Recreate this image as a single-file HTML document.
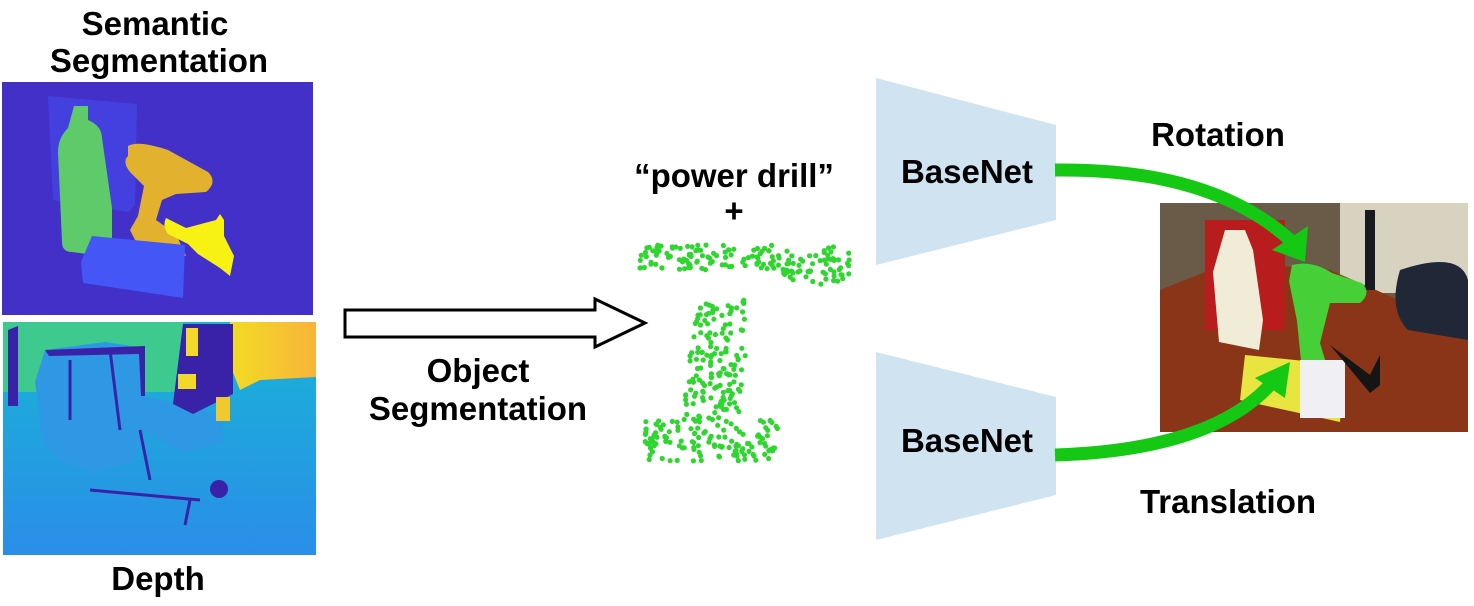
<!DOCTYPE html>
<html><head><meta charset="utf-8"><style>
html,body{margin:0;padding:0;background:#fff;}
svg{display:block;font-family:"Liberation Sans",sans-serif;font-weight:bold;}
</style></head><body>
<svg id="s" width="1474" height="606" viewBox="0 0 1474 606" xmlns="http://www.w3.org/2000/svg">
<text x="155" y="35" font-size="33" text-anchor="middle">Semantic</text>
<text x="159" y="72" font-size="33" text-anchor="middle">Segmentation</text>
<rect x="2" y="82" width="311" height="233" fill="#4230c8"/>
<polygon points="48,96 137,104 135,205 128,212 53,200" fill="#4440e0"/>
<path d="M74,106 h14 v14 q14,6 14,18 l10,70 v40 q0,8 -10,8 l-30,-4 q-10,0 -10,-10 l-4,-90 q0,-14 10,-24 z" fill="#5fca6a"/>
<path d="M128,146 q10,-6 40,4 l40,22 q10,10 -2,20 l-30,2 l-14,6 l-6,20 l20,14 l10,22 l-30,-6 l-20,-8 l-6,-12 l8,-14 l6,-30 l-14,-14 q-8,-10 -2,-16 z" fill="#e2b22e"/>
<path d="M166,218 l20,10 l30,-8 l4,-6 l4,6 l0,16 l10,20 l-4,20 l-10,-8 l-22,-14 l-10,-10 l-20,-10 q-6,-8 -2,-16 z" fill="#f7f214"/>
<polygon points="92,236 185,245 183,298 83,283 81,262" fill="#4456f5"/>
<defs>
<linearGradient id="dg" x1="0" y1="0" x2="0" y2="1"><stop offset="0" stop-color="#19b4d6"/><stop offset="1" stop-color="#2a8ee8"/></linearGradient>
<linearGradient id="yg" x1="0" y1="0" x2="1" y2="0"><stop offset="0" stop-color="#f2dc22"/><stop offset="1" stop-color="#f8b43a"/></linearGradient>
</defs>
<rect x="3" y="322" width="313" height="233" fill="url(#dg)"/>
<rect x="3" y="322" width="180" height="70" fill="#3ec98e"/>
<polygon points="230,322 316,322 316,377 260,380 240,390 228,360" fill="url(#yg)"/>
<path d="M45,350 l60,-8 l40,6 l-2,48 l80,18 l0,30 l-40,8 l-40,-20 l-10,30 l-40,10 l-30,-10 l-20,-20 l-8,-60 z" fill="#2f98e4"/>
<path d="M8,330 l10,-4 l0,80 l-10,0z M45,350 l100,-4 l0,50 l-4,0 l-2,-42 l-90,2z M183,324 l50,0 l0,70 l-40,20 l-20,-10z" fill="#3a22a8"/>
<rect x="178" y="374" width="18" height="15" fill="#f2d82a"/>
<rect x="216" y="397" width="14" height="24" fill="#f0c830"/>
<rect x="186" y="328" width="12" height="28" fill="#f2d82a"/>
<circle cx="219" cy="489" r="9" fill="#3a22a8"/>
<path d="M70,360 L70,420 M110,350 L120,430 M90,490 L200,500 M190,500 L185,525 M140,430 L150,480" stroke="#3a22a8" stroke-width="3" fill="none"/>
<text x="158" y="590" font-size="33" text-anchor="middle">Depth</text>
<polygon points="345,310 595,310 595,299 645,323 595,347 595,337 345,337" fill="#fff" stroke="#000" stroke-width="3"/>
<text x="478" y="382" font-size="33" text-anchor="middle">Object</text>
<text x="478" y="420" font-size="33" text-anchor="middle">Segmentation</text>
<text x="734" y="187" font-size="33" text-anchor="middle">“power drill”</text>
<text x="734" y="222" font-size="33" text-anchor="middle">+</text>
<g id="pc" fill="#2fd62f"></g>
<polygon points="876,78 1056,125 1056,220 876,265" fill="#cfe3f1"/>
<polygon points="876,352 1056,397 1056,495 876,540" fill="#cfe3f1"/>
<text x="967" y="183" font-size="33" text-anchor="middle">BaseNet</text>
<text x="967" y="452" font-size="33" text-anchor="middle">BaseNet</text>
<text x="1218" y="146" font-size="33" text-anchor="middle">Rotation</text>
<text x="1228" y="513" font-size="33" text-anchor="middle">Translation</text>
<rect x="1160" y="203" width="308" height="229" fill="#6a5a48"/>
<rect x="1340" y="203" width="128" height="90" fill="#d8d2c0"/>
<polygon points="1160,290 1230,262 1330,270 1468,330 1468,432 1160,432" fill="#8a3418"/>
<path d="M1400,270 q60,-20 68,10 v60 l-60,-10 q-20,-20 -8,-60z" fill="#202838"/>
<rect x="1365" y="210" width="10" height="80" fill="#1a1a22"/>
<rect x="1205" y="220" width="80" height="110" fill="#b81c1c"/>
<path d="M1225,230 h20 l8,20 l10,70 l-4,30 l-40,-8 l-6,-70 z" fill="#f0ecd8"/>
<path d="M1292,265 q20,-5 40,8 l30,10 q10,10 -2,20 l-30,0 l-10,40 l6,20 l-25,-2 l-4,-40 l-8,-40z" fill="#3ee03a" opacity="0.9"/>
<polygon points="1245,355 1345,365 1340,422 1240,400" fill="#e8e440"/>
<rect x="1300" y="360" width="45" height="58" fill="#f0f0f4"/>
<path d="M1330,345 l40,30 l10,-20 l0,30 l-10,8 z" fill="#151515"/>
<path d="M1055,170 Q1210,168 1290,240" stroke="#14c814" stroke-width="13" fill="none"/>
<polygon points="1272,250 1308,226 1305,262" fill="#14c814"/>
<path d="M1055,455 Q1210,450 1270,385" stroke="#14c814" stroke-width="13" fill="none"/>
<polygon points="1255,378 1290,362 1285,398" fill="#14c814"/>
</svg>
<script>
(function(){var g=document.getElementById('pc');var s=7;function r(){s=(s*16807)%2147483647;return s/2147483647;}
function add(x,y){var c=document.createElementNS('http://www.w3.org/2000/svg','circle');c.setAttribute('cx',x.toFixed(1));c.setAttribute('cy',y.toFixed(1));c.setAttribute('r','2.6');g.appendChild(c);}
for(var i=0;i<170;i++){var x=640+r()*210;var y=245+r()*25+(x>780?r()*15:0);add(x,y);}
for(var i=0;i<150;i++){var t=r();var cx=725-t*15;var y=300+t*120;add(cx-28+r()*56,y);}
for(var i=0;i<130;i++){var x=645+r()*135;var y=420+r()*42;add(x,y);}
})();
</script>
</body></html>
